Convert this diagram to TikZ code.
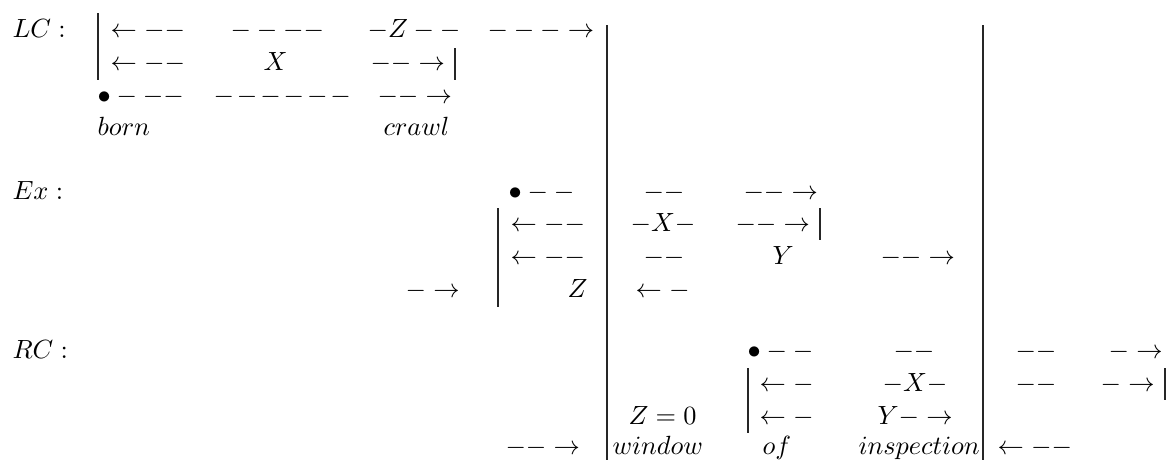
\documentclass[tikz,border=0pt]{standalone}
\usepackage{amsmath}
\usetikzlibrary{positioning}
\begin{document}
\begin{tikzpicture}[
    x=0.38pt, y=-0.38pt,
    every node/.style = {inner sep=0pt, anchor=base west},
    bar/.style        = {line width=0.4pt, draw=black!85},
    tick/.style       = {line width=0.4pt, draw=black!85},
  ]
  \useasboundingbox (0,0) rectangle (1173,460);

  %% LC block (rows at y = 37, 70, 103, 135)
  \node (lc)    at ( 12, 37) {$LC:$};
  \node (lcA1)  at (110, 37) {$\leftarrow--$};
  \node (lcA2)  at (230, 37) {$----$};
  \node (lcA3)  at (367, 37) {$-Z--$};
  \node (lcA4)  at (487, 37) {$---\rightarrow$};

  \node (lcB1)  at (110, 70) {$\leftarrow--$};
  \node (lcB2)  at (263, 70) {$X$};
  \node (lcB3)  at (370, 70) {$--\rightarrow$};

  \node (lcC1)  at ( 97,103) {$\bullet---$};
  \node (lcC2)  at (213,103) {${-}\mkern2mu{-}\mkern2mu{-}\mkern2mu{-}\mkern2mu{-}\mkern2mu{-}$};
  \node (lcC3)  at (377,103) {$--\rightarrow$};

  \node (born)  at ( 97,135) {$born$};
  \node (crawl) at (383,135) {$crawl$};

  %% Ex block (rows at y = 199, 231, 264, 297)
  \node (ex)    at ( 12,199) {$Ex:$};
  \node (exA1)  at (508,199) {$\bullet--$};
  \node (exA2)  at (643,199) {$--$};
  \node (exA3)  at (743,199) {$--\rightarrow$};

  \node (exB1)  at (510,231) {$\leftarrow--$};
  \node (exB2)  at (630,231) {$-X-$};
  \node (exB3)  at (735,231) {$--\rightarrow$};

  \node (exC1)  at (510,264) {$\leftarrow--$};
  \node (exC2)  at (643,264) {$--$};
  \node (exC3)  at (772,264) {$Y$};
  \node (exC4)  at (880,264) {$--\rightarrow$};

  \node (exD1)  at (405,297) {$-\rightarrow$};
  \node (exD3)  at (567,297) {$Z$};
  \node (exD4)  at (635,297) {$\leftarrow-$};

  %% RC block (rows at y = 358, 391, 424, 454)
  \node (rc)    at ( 12,358) {$RC:$};
  \node (rcA1)  at (747,358) {$\bullet--$};
  \node (rcA2)  at (893,358) {$--$};
  \node (rcA3)  at (1015,358) {$--$};
  \node (rcA4)  at (1108,358) {$-\rightarrow$};

  \node (rcB1)  at (759,391) {$\leftarrow-$};
  \node (rcB2)  at (882,391) {$-X-$};
  \node (rcB3)  at (1015,391) {$--$};
  \node (rcB4)  at (1100,391) {$-\rightarrow$};

  \node (rcC1)  at (628,424) {$Z=0$};
  \node (rcC2)  at (759,424) {$\leftarrow-$};
  \node (rcC3)  at (877,424) {$Y-\rightarrow$};

  \node (rcD1)  at (505,454) {$--\rightarrow$};
  \node (window) at (612,454) {$window$};
  \node (of)    at (762,454) {$of$};
  \node (insp)  at (858,454) {$inspection$};
  \node (rcD5)  at (997,454) {$\leftarrow--$};

  %% short bars, one row high each
  \coordinate (lcTop)  at ( 98, 13);  \coordinate (lcBot)  at ( 98, 80);
  \coordinate (lcEtop) at (455, 48);  \coordinate (lcEbot) at (455, 80);
  \coordinate (exTop)  at (498,208);  \coordinate (exBot)  at (498,307);
  \coordinate (exEtop) at (820,208);  \coordinate (exEbot) at (820,240);
  \coordinate (rcTop)  at (748,368);  \coordinate (rcBot)  at (748,433);
  \coordinate (rcEtop) at (1165,368); \coordinate (rcEbot) at (1165,400);
  \draw[tick] (lcTop)  -- (lcBot);
  \draw[tick] (lcEtop) -- (lcEbot);
  \draw[tick] (exTop)  -- (exBot);
  \draw[tick] (exEtop) -- (exEbot);
  \draw[tick] (rcTop)  -- (rcBot);
  \draw[tick] (rcEtop) -- (rcEbot);

  %% the two long bars
  \coordinate (barLtop) at (607, 25);
  \coordinate (barLbot) at (607,460);
  \coordinate (barRtop) at (983, 25);
  \coordinate (barRbot) at (983,460);
  \draw[bar] (barLtop) -- (barLbot);
  \draw[bar] (barRtop) -- (barRbot);

\end{tikzpicture}
\end{document}
